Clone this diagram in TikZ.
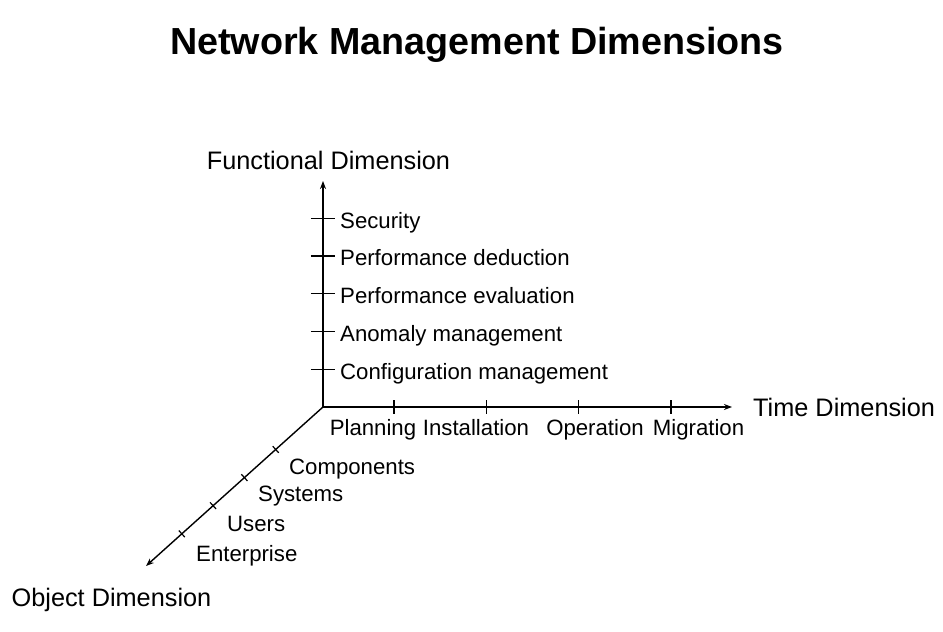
\documentclass[tikz,border=0pt]{standalone}
\usepackage{fontspec}
\setmainfont{Liberation Sans}
\usepackage{tikz}
\usetikzlibrary{arrows.meta, positioning}

\begin{document}
\begin{tikzpicture}[x=1pt, y=1pt,
  axe/.style={line width=1.4pt, -{Stealth[length=8pt, width=6pt]}},
  graduation/.style={line width=1.2pt},
  titre/.style={font=\fontsize{37.7}{44}\selectfont\bfseries, anchor=base, inner sep=0pt},
  nomaxe/.style={font=\fontsize{25.3}{30}\selectfont, anchor=base, inner sep=0pt},
  etiquette/.style={font=\fontsize{22.2}{26}\selectfont, anchor=base west, inner sep=0pt},
  phase/.style={font=\fontsize{22.2}{26}\selectfont, anchor=base, inner sep=0pt}]
  \useasboundingbox (-323,-225) rectangle (620,407);

  % axes
  \coordinate (origine) at (0,0);
  \coordinate (fonction) at (0,226);
  \coordinate (temps) at (409,0);
  \coordinate (objet) at (-177,-159);
  \draw[axe] (origine) -- (fonction);
  \draw[axe] (origine) -- (temps);
  \draw[axe] (origine) -- (objet);

  % graduations
  \draw[graduation] (-12,37.75) -- (12,37.75);
  \draw[graduation] (-12,75.5) -- (12,75.5);
  \draw[graduation] (-12,113.25) -- (12,113.25);
  \draw[graduation] (-12,151) -- (12,151);
  \draw[graduation] (-12,188.75) -- (12,188.75);
  \draw[graduation] (71,-7) -- (71,7);
  \draw[graduation] (163.3,-7) -- (163.3,7);
  \draw[graduation] (255.7,-7) -- (255.7,7);
  \draw[graduation] (348,-7) -- (348,7);
  \draw[graduation] (-50.3,-39.2) -- (-44.3,-45.8);
  \draw[graduation] (-81.6,-67.3) -- (-75.6,-73.9);
  \draw[graduation] (-112.9,-95.4) -- (-106.9,-102);
  \draw[graduation] (-144.2,-123.5) -- (-138.2,-130.1);

  % titre et noms des axes
  \node[titre] (titre) at (154,352.5) {Network Management Dimensions};
  \node[nomaxe] (nomfonction) at (5.5,237.5) {Functional Dimension};
  \node[nomaxe, anchor=base west] (nomtemps) at (430,-9.7) {Time Dimension};
  \node[nomaxe] (nomobjet) at (-211.5,-199) {Object Dimension};

  % dimension fonctionnelle
  \node[etiquette] (securite) at (17,178.75) {Security};
  \node[etiquette] (deduction) at (17,141) {Performance deduction};
  \node[etiquette] (evaluation) at (17,103.25) {Performance evaluation};
  \node[etiquette] (anomalie) at (17,65.5) {Anomaly management};
  \node[etiquette] (configuration) at (17,27.75) {Configuration management};

  % dimension temporelle
  \node[phase] (planification) at (50,-29) {Planning};
  \node[phase] (installation) at (153,-29) {Installation};
  \node[phase] (exploitation) at (272,-29) {Operation};
  \node[phase] (migration) at (375.5,-29) {Migration};

  % dimension objet
  \node[etiquette] (composants) at (-34,-67) {Components};
  \node[etiquette] (systemes) at (-65,-95) {Systems};
  \node[etiquette] (utilisateurs) at (-96,-124) {Users};
  \node[etiquette] (entreprise) at (-127,-154) {Enterprise};
\end{tikzpicture}
\end{document}
